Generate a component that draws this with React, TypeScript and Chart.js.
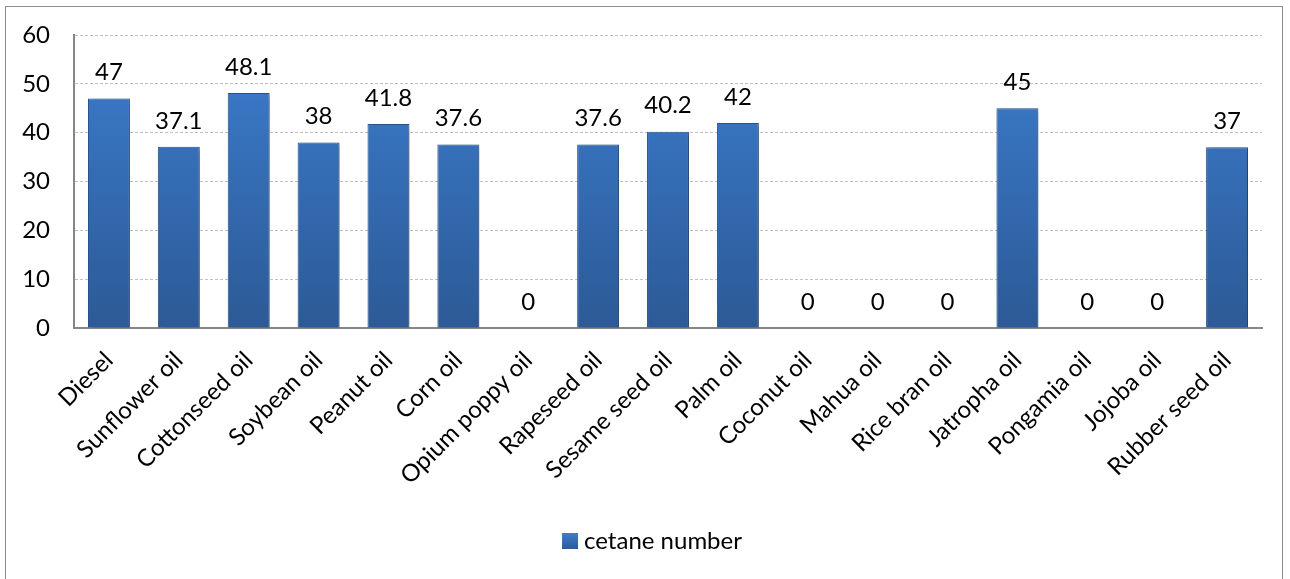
import React, { useEffect, useRef } from "react";
import { Chart, registerables } from "chart.js";

Chart.register(...registerables);

const categories = [
  "Diesel", "Sunflower oil", "Cottonseed oil", "Soybean oil", "Peanut oil", "Corn oil",
  "Opium poppy oil", "Rapeseed oil", "Sesame seed oil", "Palm oil", "Coconut oil",
  "Mahua oil", "Rice bran oil", "Jatropha oil", "Pongamia oil", "Jojoba oil", "Rubber seed oil",
];
const cetaneNumber = [47, 37.1, 48.1, 38, 41.8, 37.6, 0, 37.6, 40.2, 42, 0, 0, 0, 45, 0, 0, 37];
const seriesLabel = "cetane number";
const yTicks = [0, 10, 20, 30, 40, 50, 60];

const FONT = "Lato, 'Noto Sans', sans-serif";
const FS = 24;

export default function App() {
  const ref = useRef<HTMLCanvasElement>(null);
  useEffect(() => {
    document.body.style.margin = "0";
    const canvas = ref.current!;
    const makeGrad = (ctx: CanvasRenderingContext2D, top: number, bottom: number) => {
      const g = ctx.createLinearGradient(0, top, 0, bottom);
      g.addColorStop(0, "#3c7dcf");
      g.addColorStop(1, "#2c5a96");
      return g;
    };
    const shadowPlugin = {
      id: "shadow",
      beforeDatasetsDraw(chart: any) {
        const ctx = chart.ctx;
        ctx.save();
        ctx.shadowColor = "rgba(0,0,0,0.35)";
        ctx.shadowBlur = 5;
        ctx.shadowOffsetX = 2;
        ctx.shadowOffsetY = 2;
      },
      afterDatasetsDraw(chart: any) {
        chart.ctx.restore();
      },
    };
    const labelPlugin = {
      id: "valueLabels",
      afterDatasetsDraw(chart: any) {
        const ctx = chart.ctx;
        const meta = chart.getDatasetMeta(0);
        ctx.save();
        ctx.font = `${FS}px ${FONT}`;
        ctx.fillStyle = "#000";
        ctx.textAlign = "center";
        ctx.textBaseline = "middle";
        meta.data.forEach((bar: any, i: number) => {
          ctx.fillText(String(cetaneNumber[i]), bar.x, bar.y - 26);
        });
        ctx.restore();
      },
    };
    const legendPlugin = {
      id: "customLegend",
      afterDraw(chart: any) {
        const ctx = chart.ctx;
        ctx.save();
        ctx.font = `${FS}px ${FONT}`;
        const tw = ctx.measureText(seriesLabel).width;
        const box = 16;
        const gap = 6;
        const total = box + gap + tw;
        const cx = chart.width / 2 + 8;
        const cy = 534;
        const x0 = cx - total / 2;
        ctx.fillStyle = makeGrad(ctx, cy - box / 2, cy + box / 2);
        ctx.fillRect(x0, cy - box / 2, box, box);
        ctx.fillStyle = "#000";
        ctx.textBaseline = "middle";
        ctx.textAlign = "left";
        ctx.fillText(seriesLabel, x0 + box + gap, cy);
        ctx.restore();
      },
    };
    const chart = new Chart(canvas, {
      type: "bar",
      data: {
        labels: categories,
        datasets: [
          {
            label: seriesLabel,
            data: cetaneNumber,
            backgroundColor: (c: any) => {
              const area = c.chart.chartArea;
              if (!area) return "#3570b8";
              return makeGrad(c.chart.ctx, area.top, area.bottom);
            },
            borderColor: "#2a5690",
            borderWidth: 1,
            barPercentage: 0.6,
            categoryPercentage: 1,
          },
        ],
      },
      options: {
        animation: false,
        responsive: false,
        maintainAspectRatio: false,
        layout: { padding: { top: 28, right: 20, left: 0, bottom: 0 } },
        plugins: { legend: { display: false }, tooltip: { enabled: false } },
        scales: {
          x: {
            grid: { display: false },
            border: { display: true, color: "#868686", width: 2 },
            ticks: {
              color: "#000",
              font: { family: FONT, size: FS },
              minRotation: 45,
              maxRotation: 45,
              autoSkip: false,
              padding: 10,
            },
            afterFit(scale: any) {
              scale.height = 249;
              scale.paddingLeft = 0;
              scale.paddingRight = 0;
            },
          },
          y: {
            min: 0,
            max: 60,
            afterBuildTicks(scale: any) {
              scale.ticks = yTicks.map((v) => ({ value: v }));
            },
            grid: { color: "#c0c0c0", drawTicks: false, lineWidth: 1 },
            border: { display: true, color: "#868686", width: 2, dash: [3, 2] },
            ticks: {
              color: "#000",
              font: { family: FONT, size: FS },
              padding: 24,
            },
            afterFit(scale: any) {
              scale.width = 68;
              scale.paddingTop = 0;
              scale.paddingBottom = 0;
            },
          },
        },
      },
      plugins: [shadowPlugin, labelPlugin, legendPlugin],
    } as any);
    return () => chart.destroy();
  }, []);
  return (
    <div
      style={{
        position: "absolute",
        left: 5,
        top: 6,
        width: 1276,
        height: 572,
        border: "1px solid #8c8c8c",
        background: "#fff",
      }}
    >
      <canvas ref={ref} width={1276} height={570} style={{ display: "block" }} />
    </div>
  );
}
